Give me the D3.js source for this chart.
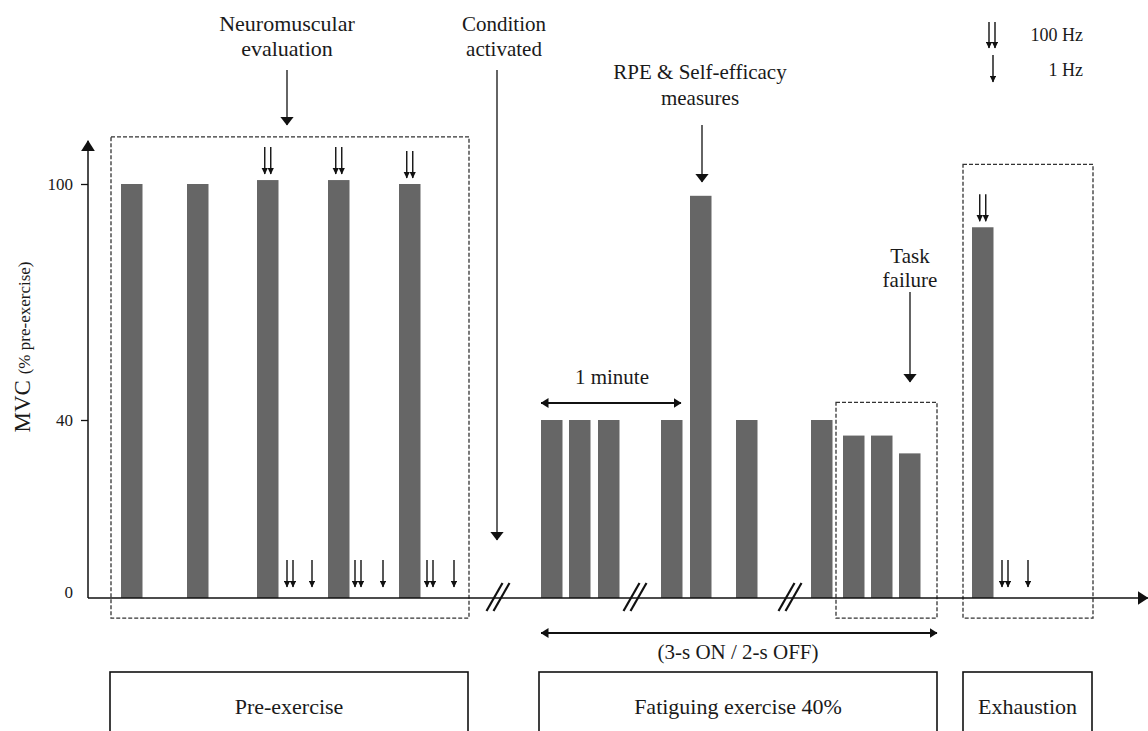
<!DOCTYPE html>
<html>
<head>
<meta charset="utf-8">
<script src="https://cdn.jsdelivr.net/npm/d3@7"></script>
<style>
    body { margin: 0; background: #fff; }
</style>
</head>
<body>
<div id="chart"></div>
<script>
// timeline (arbitrary time units) and MVC (% pre-exercise) of each contraction
const barStarts = [3.3, 9.9, 16.9, 24.0, 31.1, 45.3, 48.1, 51.0, 57.3, 60.2, 64.8, 72.3, 75.5, 78.3, 81.1, 88.4];
const barValues = [100, 100, 101, 101, 100, 40, 40, 40, 40, 97, 40, 40, 36.5, 36.5, 32.5, 89];
const yTicks = [0, 40, 100];

// stimulation markers: 100 Hz doublets above some bars, then 100 Hz + 1 Hz at rest
const stim100OnBar = [2, 3, 4, 15];
const stim100Rest = [20.2, 27.0, 34.2, 91.7];
const stim1Rest = [22.4, 29.5, 36.6, 94.0];

// axis breaks
const breakTimes = [41.0, 54.7, 70.2];

// dashed windows (neuromuscular evaluation, task failure, exhaustion)
const windowStart = [2.3, 74.8, 87.5];
const windowEnd = [38.1, 84.9, 100.5];
const windowTop = [112, 44.5, 105];

// phases under the timeline
const phaseNames = ["Pre-exercise", "Fatiguing exercise 40%", "Exhaustion"];
const phaseStart = [2.2, 45.1, 87.5];
const phaseEnd = [38.0, 84.9, 100.4];

const serif = '"Liberation Serif", "Times New Roman", serif';
const svgWidth = 1148, svgHeight = 731;
const svg = d3.select("#chart").append("svg")
    .attr("width", svgWidth)
    .attr("height", svgHeight)
    .attr("font-family", serif);

const x = d3.scaleLinear().domain([0, 106]).range([88, 1148]);
// schematic axis: 0-40 and 40-100 are not drawn to the same scale
const y = d3.scaleLinear().domain([0, 40, 100]).range([598, 420, 184]);
const barW = 2.15;

// arrow heads
const defs = svg.append("defs");
function marker(id, len, half) {
    defs.append("marker")
        .attr("id", id)
        .attr("viewBox", `0 ${-half} ${len} ${half * 2}`)
        .attr("refX", len - 0.5)
        .attr("refY", 0)
        .attr("markerUnits", "userSpaceOnUse")
        .attr("markerWidth", len)
        .attr("markerHeight", half * 2)
        .attr("orient", "auto-start-reverse")
        .append("path")
        .attr("d", `M0,${-half}L${len},0L0,${half}Z`)
        .attr("fill", "#111");
}
marker("head-big", 9, 7);
marker("head-mid", 8, 5);
marker("head-small", 7, 3.3);
marker("head-axis", 11, 7);

function arrow(x1, y1, x2, y2, head, w, both) {
    const l = svg.append("line")
        .attr("x1", x1).attr("y1", y1)
        .attr("x2", x2).attr("y2", y2)
        .attr("stroke", "#111")
        .attr("stroke-width", w || 1.3)
        .attr("marker-end", `url(#${head})`);
    if (both) l.attr("marker-start", `url(#${head})`);
    return l;
}

function label(lines, cx, cy, size, lineGap) {
    lines.forEach((t, i) => {
        svg.append("text")
            .attr("x", cx)
            .attr("y", cy + i * lineGap)
            .attr("dy", "0.35em")
            .attr("text-anchor", "middle")
            .attr("font-family", serif)
            .attr("font-size", size)
            .attr("fill", "#1a1a1a")
            .text(t);
    });
}

// dashed windows
svg.append("g").selectAll("rect")
    .data(windowStart)
    .join("rect")
    .attr("x", (d) => x(d))
    .attr("y", (d, i) => y(windowTop[i]))
    .attr("width", (d, i) => x(windowEnd[i]) - x(d))
    .attr("height", (d, i) => y(-4.5) - y(windowTop[i]))
    .attr("fill", "none")
    .attr("stroke", "#333")
    .attr("stroke-width", 1.3)
    .attr("stroke-dasharray", "4,2");

// bars
svg.append("g").selectAll("rect")
    .data(barStarts)
    .join("rect")
    .attr("x", (d) => x(d))
    .attr("y", (d, i) => y(barValues[i]))
    .attr("width", x(barW) - x(0))
    .attr("height", (d, i) => y(0) - y(barValues[i]))
    .attr("fill", "#666666");

// axes
svg.append("line")
    .attr("x1", x(0)).attr("y1", y(0))
    .attr("x2", x(0)).attr("y2", y(111))
    .attr("stroke", "#111").attr("stroke-width", 1.5)
    .attr("marker-end", "url(#head-axis)");
svg.append("line")
    .attr("x1", x(0)).attr("y1", y(0))
    .attr("x2", x(106)).attr("y2", y(0))
    .attr("stroke", "#111").attr("stroke-width", 1.5)
    .attr("marker-end", "url(#head-axis)");

let yAxis = svg.append("g")
    .attr("transform", `translate(${x(0)},0)`)
    .call(d3.axisLeft(y).tickValues(yTicks).tickSize(7).tickPadding(8))
    .attr("font-family", serif)
    .attr("font-size", 17);
yAxis.select(".domain").remove();
yAxis.selectAll(".tick line").attr("stroke", "#111").attr("stroke-width", 1.3);
yAxis.selectAll(".tick text").attr("fill", "#1a1a1a");
yAxis.selectAll(".tick").filter((d) => d === 0).select("line").remove();
yAxis.selectAll(".tick").filter((d) => d === 0).select("text").attr("y", -6);

let yTitle = svg.append("text")
    .attr("transform", `translate(24,${(y(0) + y(100)) / 2 - 44}) rotate(-90)`)
    .attr("text-anchor", "middle")
    .attr("dy", "0.35em")
    .attr("fill", "#1a1a1a");
yTitle.append("tspan").attr("font-size", 23).text("MVC ");
yTitle.append("tspan").attr("font-size", 17).text("(% pre-exercise)");

// axis breaks
breakTimes.forEach((t) => {
    [-3.5, 3.5].forEach((o) => {
        svg.append("line")
            .attr("x1", x(t) + o - 8).attr("y1", y(0) + 13)
            .attr("x2", x(t) + o + 8).attr("y2", y(0) - 15)
            .attr("stroke", "#111").attr("stroke-width", 2.2);
    });
});

// stimulation markers
function doublet(cx, yTop, yTip) {
    [-3, 3].forEach((o) => arrow(cx + o, yTop, cx + o, yTip, "head-small", 1.4));
}
stim100OnBar.forEach((b) => {
    let cx = x(barStarts[b] + barW / 2);
    let top = y(barValues[b]);
    doublet(cx, top - 33, top - 6);
});
stim100Rest.forEach((t) => doublet(x(t), y(0) - 38, y(0) - 11));
stim1Rest.forEach((t) => arrow(x(t), y(0) - 38, x(t), y(0) - 11, "head-small", 1.4));

// legend
doublet(992, 22, 48);
arrow(993, 55, 993, 82, "head-small", 1.4);
svg.append("text").attr("x", 1083).attr("y", 35).attr("dy", "0.35em")
    .attr("text-anchor", "end").attr("font-size", 18).attr("fill", "#1a1a1a").text("100 Hz");
svg.append("text").attr("x", 1083).attr("y", 70).attr("dy", "0.35em")
    .attr("text-anchor", "end").attr("font-size", 18).attr("fill", "#1a1a1a").text("1 Hz");

// annotations
label(["Neuromuscular", "evaluation"], 287, 23, 22, 25);
arrow(287, 70, 287, 125, "head-big", 1.3);

label(["Condition", "activated"], 504, 24, 21, 25);
arrow(497, 70, 497, 540, "head-big", 1.3);

label(["RPE & Self-efficacy", "measures"], 700, 72, 21, 26);
arrow(702, 125, 702, 182, "head-big", 1.3);

label(["Task", "failure"], 910, 256, 21, 24);
arrow(910, 292, 910, 382, "head-big", 1.3);

label(["1 minute"], 612, 377, 21, 0);
arrow(x(45.3), 403, 681, 403, "head-mid", 1.8, true);

label(["(3-s ON / 2-s OFF)"], 738, 652, 21, 0);
arrow(x(45.3), 633, x(84.9), 633, "head-mid", 1.8, true);

// phase boxes
svg.append("g").selectAll("rect")
    .data(phaseStart)
    .join("rect")
    .attr("x", (d) => x(d))
    .attr("y", 672)
    .attr("width", (d, i) => x(phaseEnd[i]) - x(d))
    .attr("height", 80)
    .attr("fill", "none")
    .attr("stroke", "#111")
    .attr("stroke-width", 1.6);

phaseNames.forEach((n, i) => {
    label([n], (x(phaseStart[i]) + x(phaseEnd[i])) / 2, 706, 22, 0);
});
</script>
</body>
</html>
